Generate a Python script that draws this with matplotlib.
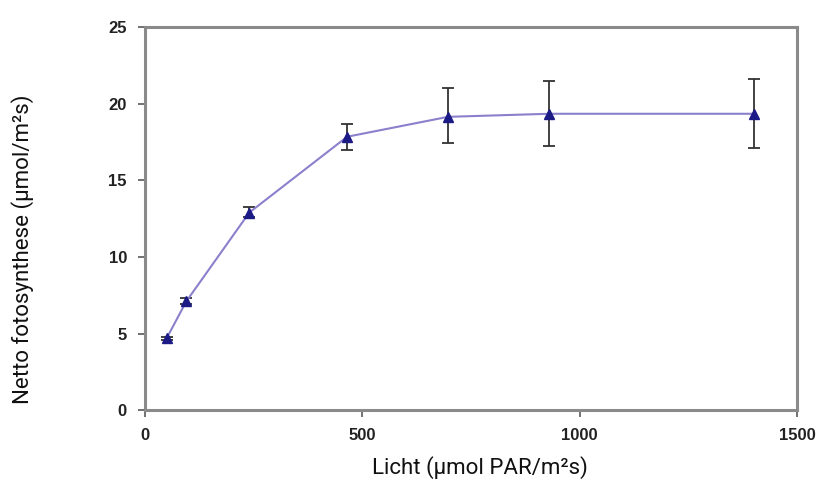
import matplotlib
matplotlib.use("Agg")
import matplotlib.pyplot as plt

light = [50, 95, 240, 465, 697, 930, 1400]
photo = [4.7, 7.1, 12.9, 17.85, 19.15, 19.35, 19.35]
err_low = [0.1, 0.2, 0.3, 0.85, 1.7, 2.1, 2.25]
err_high = [0.1, 0.25, 0.35, 0.85, 1.85, 2.15, 2.3]

xticks = [0, 500, 1000, 1500]
yticks = [0, 5, 10, 15, 20, 25]

fig = plt.figure(figsize=(8.26, 4.86), dpi=100)
ax = fig.add_axes([0.1755, 0.156, 0.7895, 0.788])

ax.errorbar(light, photo, yerr=[err_low, err_high], fmt='none',
            ecolor='#333333', elinewidth=1.3, capsize=4, capthick=1.3, zorder=2)
ax.plot(light, photo, color='#8a80cc', linewidth=1.5, zorder=3)
ax.plot(light, photo, linestyle='none', marker='^', markersize=7.5,
        color='#1c1a85', zorder=4)

ax.set_xlim(0, 1500)
ax.set_ylim(0, 25)
ax.set_xticks(xticks)
ax.set_yticks(yticks)
for s in ax.spines.values():
    s.set_color('#8a8a8a')
    s.set_linewidth(2.2)
ax.tick_params(axis='both', direction='out', length=5, width=1.3, color='#666666',
               labelsize=12, pad=8)
for lab in ax.get_xticklabels() + ax.get_yticklabels():
    lab.set_fontweight('bold')
    lab.set_family('Liberation Sans')
    lab.set_color('#222222')

ax.set_xlabel('Licht (µmol PAR/m²s)', fontsize=16, family='Roboto', color='#111111')
ax.set_ylabel('Netto fotosynthese (µmol/m²s)', fontsize=16, family='Roboto', color='#111111')
ax.yaxis.set_label_coords(-0.17, 0.42)
ax.xaxis.set_label_coords(0.514, -0.12)

fig.savefig('out.png', dpi=100)
